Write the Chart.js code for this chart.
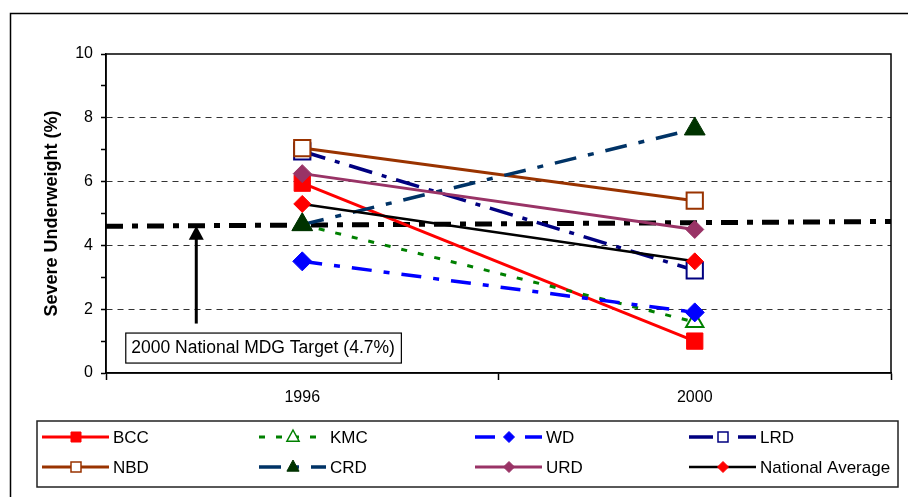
<!DOCTYPE html>
<html>
<head>
<meta charset="utf-8">
<script src="https://cdn.jsdelivr.net/npm/chart.js@4.4.0/dist/chart.umd.min.js"></script>
<style>
  html, body { margin: 0; padding: 0; background: #fff; }
  #wrap { width: 908px; height: 497px; }
</style>
</head>
<body>
<div id="wrap"><canvas id="myChart" width="908" height="497"></canvas></div>
<script>
// categories (survey years)
const years = ['1996', '2000'];

// severe underweight (%) by district
const bcc = [5.95, 1.0];
const kmc = [4.65, 1.6];
const wd = [3.5, 1.9];
const lrd = [6.95, 3.22];
const nbd = [7.05, 5.4];
const crd = [4.65, 7.65];
const urd = [6.25, 4.5];
const nationalAvg = [5.3, 3.5];

// y axis labels that are shown
const yTicks = [0, 2, 4, 6, 8, 10];

// MDG target line (value at left edge, value at right edge) and its label
const targetLine = [4.6, 4.75];
const targetLabel = '2000 National MDG Target (4.7%)';
// arrow: category position and the value where it starts
const arrowIndex = -0.27;
const arrowFrom = 1.55;

Chart.defaults.font.family = "'Liberation Sans', Arial, sans-serif";
Chart.defaults.color = '#000';

const datasets = [
    { label: 'BCC', data: bcc, borderColor: '#FF0000', borderWidth: 3, borderDash: [],
      pointStyle: 'rect', pointRadius: 11.5, pointBackgroundColor: '#FF0000', pointBorderColor: '#FF0000', pointBorderWidth: 1 },
    { label: 'KMC', data: kmc, borderColor: '#008000', borderWidth: 3, borderDash: [6, 11],
      pointStyle: 'triangle', pointRadius: 10, pointBackgroundColor: '#FFFFFF', pointBorderColor: '#008000', pointBorderWidth: 2 },
    { label: 'WD', data: wd, borderColor: '#0000FF', borderWidth: 3.5, borderDash: [20, 12, 6, 12],
      pointStyle: 'rectRot', pointRadius: 9.5, pointBackgroundColor: '#0000FF', pointBorderColor: '#0000FF', pointBorderWidth: 1 },
    { label: 'LRD', data: lrd, borderColor: '#000080', borderWidth: 3.5, borderDash: [24, 10, 5, 10],
      pointStyle: 'rect', pointRadius: 11.5, pointBackgroundColor: '#FFFFFF', pointBorderColor: '#000080', pointBorderWidth: 2 },
    { label: 'NBD', data: nbd, borderColor: '#993300', borderWidth: 3, borderDash: [],
      pointStyle: 'rect', pointRadius: 11.5, pointBackgroundColor: '#FFFFFF', pointBorderColor: '#993300', pointBorderWidth: 2 },
    { label: 'CRD', data: crd, borderColor: '#003366', borderWidth: 3.5, borderDash: [22, 12, 6, 12],
      pointStyle: 'triangle', pointRadius: 12, pointBackgroundColor: '#003300', pointBorderColor: '#003300', pointBorderWidth: 1 },
    { label: 'URD', data: urd, borderColor: '#993366', borderWidth: 3, borderDash: [],
      pointStyle: 'rectRot', pointRadius: 9, pointBackgroundColor: '#993366', pointBorderColor: '#993366', pointBorderWidth: 1 },
    { label: 'National Average', data: nationalAvg, borderColor: '#000000', borderWidth: 2.5, borderDash: [],
      pointStyle: 'rectRot', pointRadius: 8.5, pointBackgroundColor: '#FF0000', pointBorderColor: '#FF0000', pointBorderWidth: 1 }
];
// later series sit on top, like the original
datasets.forEach(function (d, i) {
    d.order = datasets.length - i;
    d.tension = 0;
    d.fill = false;
});

// small marker for the legend samples
function drawMarker(c, style, x, y, r, fill, stroke, bw) {
    c.beginPath();
    if (style === 'rect') {
        c.rect(x - r, y - r, 2 * r, 2 * r);
    } else if (style === 'rectRot') {
        c.moveTo(x - r, y);
        c.lineTo(x, y - r);
        c.lineTo(x + r, y);
        c.lineTo(x, y + r);
        c.closePath();
    } else if (style === 'triangle') {
        c.moveTo(x, y - r);
        c.lineTo(x + r * 0.87, y + r * 0.6);
        c.lineTo(x - r * 0.87, y + r * 0.6);
        c.closePath();
    }
    c.fillStyle = fill;
    c.fill();
    c.lineWidth = bw;
    c.strokeStyle = stroke;
    c.stroke();
}

const extras = {
    id: 'extras',
    beforeDatasetsDraw(chart) {
        const { ctx, chartArea: { top, right, bottom, left } } = chart;
        const ys = chart.scales.y;
        ctx.save();
        // plot area frame
        ctx.strokeStyle = '#000';
        ctx.lineWidth = 1.5;
        ctx.strokeRect(left, top, right - left, bottom - top);
        // target line
        ctx.beginPath();
        ctx.setLineDash([17, 9, 6, 9]);
        ctx.lineWidth = 5;
        ctx.strokeStyle = '#000';
        ctx.moveTo(left, ys.getPixelForValue(targetLine[0]));
        ctx.lineTo(right, ys.getPixelForValue(targetLine[1]));
        ctx.stroke();
        ctx.restore();
    },
    afterDraw(chart) {
        const { ctx, chartArea: { left, right } } = chart;
        const xs = chart.scales.x, ys = chart.scales.y;
        ctx.save();

        // outer frame
        ctx.strokeStyle = '#000';
        ctx.lineWidth = 1.5;
        ctx.strokeRect(10.5, 13.5, 1000, 1000);

        // arrow to the target line
        const ax = xs.getPixelForValue(arrowIndex);
        const frac = (ax - left) / (right - left);
        const tipY = ys.getPixelForValue(targetLine[0] + (targetLine[1] - targetLine[0]) * frac);
        const baseY = ys.getPixelForValue(arrowFrom);
        ctx.beginPath();
        ctx.lineWidth = 3;
        ctx.moveTo(ax, baseY);
        ctx.lineTo(ax, tipY + 12);
        ctx.stroke();
        ctx.beginPath();
        ctx.moveTo(ax, tipY);
        ctx.lineTo(ax + 7.5, tipY + 14);
        ctx.lineTo(ax - 7.5, tipY + 14);
        ctx.closePath();
        ctx.fillStyle = '#000';
        ctx.fill();

        // label box
        ctx.font = "17.5px 'Liberation Sans', Arial, sans-serif";
        const tw = ctx.measureText(targetLabel).width;
        const bx = ax - 71, by = baseY + 9;
        ctx.fillStyle = '#fff';
        ctx.fillRect(bx, by, tw + 12, 30);
        ctx.lineWidth = 1.2;
        ctx.strokeRect(bx + 0.5, by + 0.5, tw + 12, 30);
        ctx.fillStyle = '#000';
        ctx.textBaseline = 'middle';
        ctx.textAlign = 'left';
        ctx.fillText(targetLabel, bx + 6, by + 16);

        // legend
        ctx.lineWidth = 1.5;
        ctx.strokeStyle = '#222';
        ctx.strokeRect(37, 421, 861, 66);
        const colX = [42, 259, 475, 689];
        const rowY = [437, 467];
        datasets.forEach(function (d, i) {
            const x0 = colX[i % 4], y0 = rowY[Math.floor(i / 4)];
            ctx.beginPath();
            ctx.setLineDash(d.borderDash);
            ctx.lineWidth = d.borderWidth;
            ctx.strokeStyle = d.borderColor;
            ctx.moveTo(x0, y0);
            ctx.lineTo(x0 + 67, y0);
            ctx.stroke();
            ctx.setLineDash([]);
            const r = d.pointStyle === 'rect' ? 5 : (d.pointStyle === 'triangle' ? 7 : 5.5);
            drawMarker(ctx, d.pointStyle, x0 + 34, y0, r, d.pointBackgroundColor, d.pointBorderColor, d.pointBorderWidth === 2 ? 1.5 : 1);
            ctx.fillStyle = '#000';
            ctx.font = "17px 'Liberation Sans', Arial, sans-serif";
            ctx.fillText(d.label, x0 + 71, y0 + 1);
        });
        ctx.restore();
    }
};

const myChart = new Chart(document.getElementById('myChart'), {
    type: 'line',
    data: { labels: years, datasets: datasets },
    options: {
        responsive: false,
        animation: false,
        devicePixelRatio: 1,
        layout: { padding: { top: 54, right: 17, bottom: 84, left: 0 } },
        plugins: {
            legend: { display: false },
            tooltip: { enabled: false }
        },
        scales: {
            x: {
                type: 'category',
                offset: true,
                grid: { drawOnChartArea: false, offset: true, tickLength: 7, tickColor: '#000', tickWidth: 1.5 },
                border: { color: '#000', width: 1.5 },
                ticks: { font: { size: 16 }, color: '#000', padding: 8 },
                afterFit: function (scale) { scale.height = 40; }
            },
            y: {
                min: 0,
                max: 10,
                ticks: {
                    stepSize: 1,
                    autoSkip: false,
                    padding: 8,
                    font: { size: 16 },
                    color: '#000',
                    callback: function (v) { return yTicks.indexOf(v) >= 0 ? String(v) : ''; }
                },
                grid: {
                    color: function (c) {
                        const v = c.tick.value;
                        return (v > 0 && v < 10 && v % 2 === 0) ? '#333' : 'rgba(0,0,0,0)';
                    },
                    lineWidth: 1,
                    tickLength: 5,
                    tickColor: '#000',
                    tickWidth: 1.5,
                    tickBorderDash: []
                },
                border: { color: '#000', width: 1.5, dash: [6, 5] },
                title: {
                    display: true,
                    text: 'Severe Underweight (%)',
                    font: { size: 18, weight: 'bold' },
                    color: '#000',
                    padding: { top: 41, bottom: 0 }
                },
                afterFit: function (scale) { scale.width = 106; }
            }
        }
    },
    plugins: [extras]
});
</script>
</body>
</html>
